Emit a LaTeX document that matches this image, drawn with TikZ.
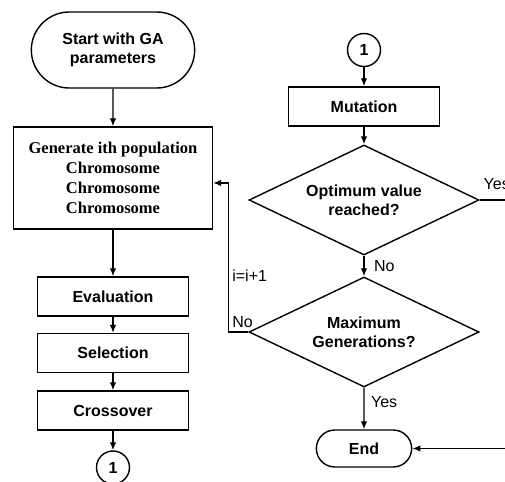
\documentclass[tikz,border=0pt]{standalone}
\usepackage{fontspec}
\setmainfont{Liberation Sans}
\newfontfamily\genfont{Liberation Serif}
\usetikzlibrary{shapes.geometric,shapes.misc,arrows.meta}

\begin{document}
\begin{tikzpicture}[x=1pt, y=1pt, line width=1.4pt, >={Latex[length=8pt,width=6.5pt]},
    font=\fontsize{16}{19}\selectfont,
    boldtext/.style={font=\bfseries\fontsize{16}{19}\selectfont},
    process/.style={rectangle, draw, boldtext, minimum width=151pt, minimum height=39pt},
    terminal/.style={rounded rectangle, draw, boldtext, align=center},
    decision/.style={diamond, draw, boldtext, aspect=2.1, minimum width=230pt, minimum height=110pt, inner sep=0pt, align=center},
    connector/.style={circle, draw, boldtext, minimum size=33pt, inner sep=0pt}]
    \useasboundingbox (-113,50) rectangle (392,-431);

    \node (start) [terminal, minimum width=170pt, minimum height=76pt] {Start with GA\\parameters};
    \node (gen) [rectangle, draw, node distance=128pt, below of=start, minimum width=199pt, minimum height=102pt, align=center,
        font=\genfont\bfseries\fontsize{16.5}{20}\selectfont] {Generate ith population\\Chromosome\\Chromosome\\Chromosome};
    \node (eval) [process, node distance=118.5pt, below of=gen] {Evaluation};
    \node (sel) [process, node distance=56.5pt, below of=eval] {Selection};
    \node (cross) [process, node distance=57.5pt, below of=sel] {Crossover};
    \node (jumpout) [connector, node distance=57pt, below of=cross] {1};

    \node (jumpin) [connector, node distance=251pt, right of=start] {1};
    \node (mut) [process, node distance=56.5pt, below of=jumpin] {Mutation};
    \node (opt) [decision, node distance=93.5pt, below of=mut] {Optimum value\\reached?};
    \node (maxgen) [decision, node distance=132pt, below of=opt] {Maximum\\Generations?};
    \node (end) [terminal, node distance=116.5pt, below of=maxgen, minimum width=102pt, minimum height=37pt] {End};

    \coordinate (loop) at ([xshift=-20pt]maxgen.west);
    \coordinate (yesturn) at ([xshift=45pt]opt.east);

    \draw [->] (start) -- (gen);
    \draw [->] (gen) -- (eval);
    \draw [->] (eval) -- (sel);
    \draw [->] (sel) -- (cross);
    \draw [->] (cross) -- (jumpout);
    \draw [->] (jumpin) -- (mut);
    \draw [->] (mut) -- (opt);
    \draw [->] (opt) -- node [right, xshift=6pt] {No} (maxgen);
    \draw [->] (maxgen) -- node [right, pos=0.35, xshift=3pt] {Yes} (end);
    \draw [->] (maxgen.west) -- (loop) node [above right] {No} |- node [right, pos=0.19] {i=i+1} ([yshift=-5pt]gen.east);
    \draw [->] (opt.east) -- (yesturn) node [pos=0, above right, yshift=6pt] {Yes} |- (end.east);
  \end{tikzpicture}
\end{document}
